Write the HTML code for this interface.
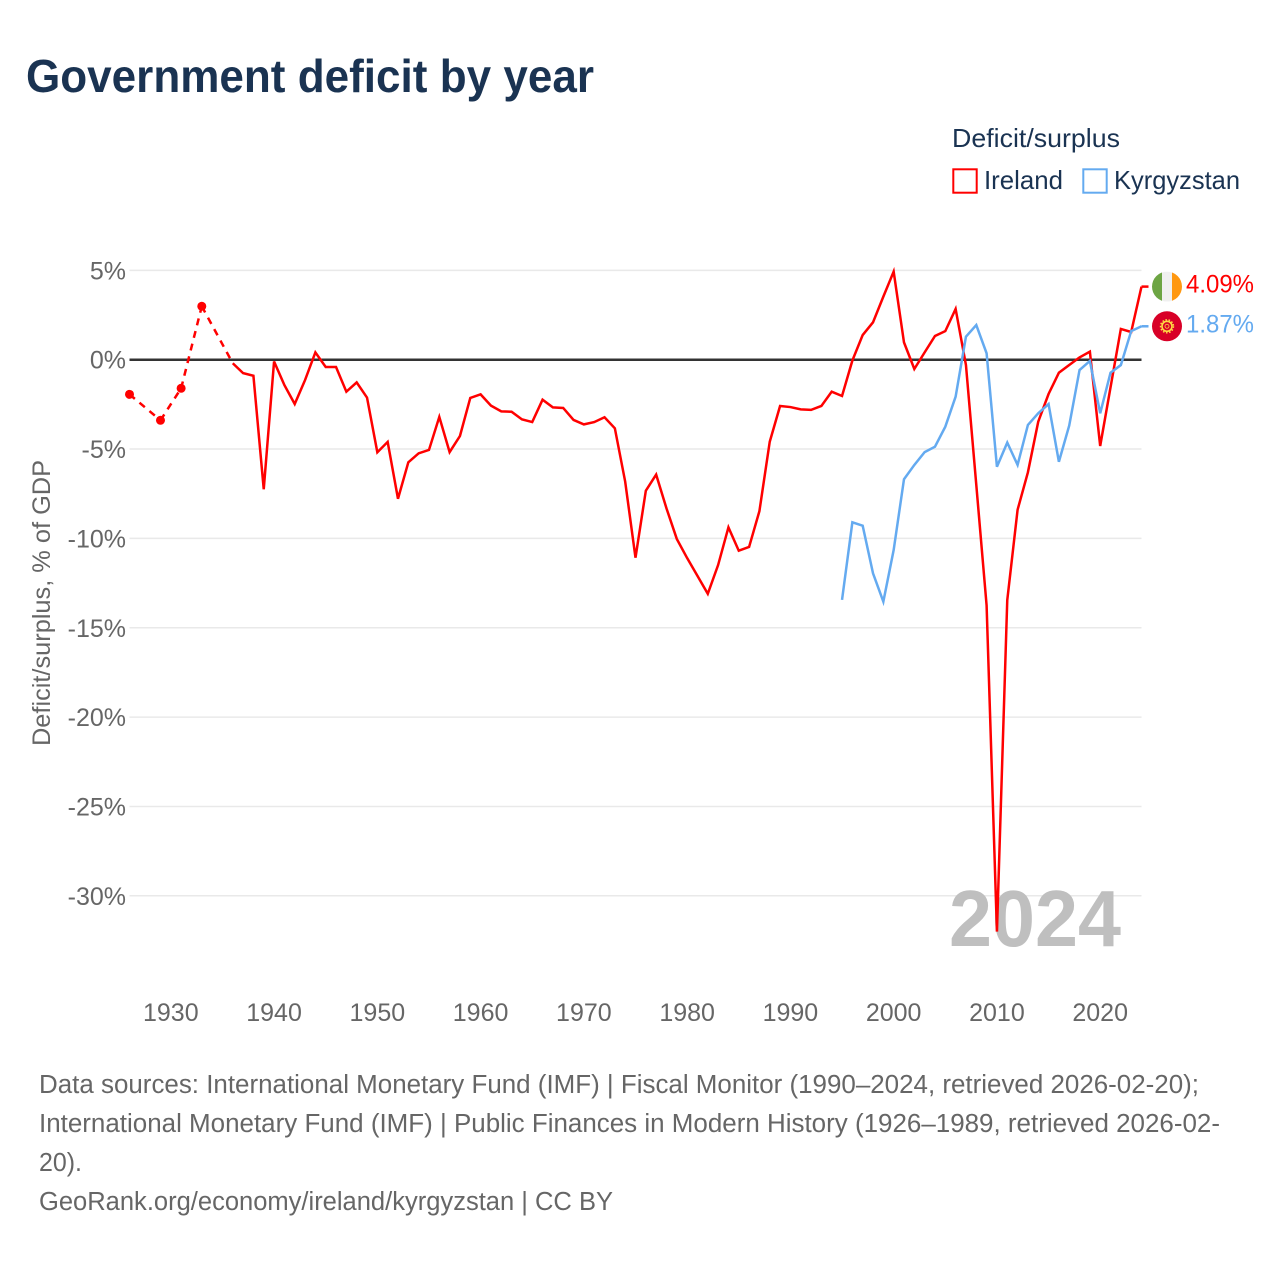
<!DOCTYPE html>
<html lang="en">
<head>
<meta charset="utf-8">
<title>Government deficit by year</title>
<style>
  html, body { margin: 0; padding: 0; background: #fff; }
  svg { display: block; font-family: "Liberation Sans", sans-serif; }
</style>
</head>
<body>
<svg id="chart" xmlns="http://www.w3.org/2000/svg" width="1280" height="1280" viewBox="0 0 1280 1280">
  <rect x="0" y="0" width="1280" height="1280" fill="#ffffff"/>
  <text x="26" y="92" font-size="46" font-weight="700" fill="#1a3352" textLength="568" lengthAdjust="spacingAndGlyphs">Government deficit by year</text>

  <g>
    <text x="952" y="147" font-size="26" fill="#1a3352" textLength="168" lengthAdjust="spacingAndGlyphs">Deficit/surplus</text>
    <g>
      <rect x="953.3" y="169.3" width="23.4" height="23.4" fill="#fff" stroke="#ff0000" stroke-width="2"/>
      <text x="984" y="189" font-size="26" fill="#1a3352" textLength="79" lengthAdjust="spacingAndGlyphs">Ireland</text>
    </g>
    <g>
      <rect x="1083.3" y="169.3" width="23.4" height="23.4" fill="#fff" stroke="#64aaf0" stroke-width="2"/>
      <text x="1114" y="189" font-size="26" fill="#1a3352" textLength="126" lengthAdjust="spacingAndGlyphs">Kyrgyzstan</text>
    </g>
  </g>

  <text transform="translate(50 603) rotate(-90)" text-anchor="middle" font-size="25" fill="#666666" textLength="286" lengthAdjust="spacingAndGlyphs">Deficit/surplus, % of GDP</text>

  <g id="grid"></g>
  <g id="yTicks"></g>
  <g id="xTicks"></g>

  <text x="949" y="946" font-size="80" font-weight="700" fill="#bfbfbf" textLength="172" lengthAdjust="spacingAndGlyphs">2024</text>

  <g id="series"></g>

  <g id="endLabels"></g>

  <g font-size="25.5" fill="#666666">
    <text x="39" y="1093" textLength="1160" lengthAdjust="spacingAndGlyphs">Data sources: International Monetary Fund (IMF) | Fiscal Monitor (1990–2024, retrieved 2026-02-20);</text>
    <text x="39" y="1132" textLength="1181" lengthAdjust="spacingAndGlyphs">International Monetary Fund (IMF) | Public Finances in Modern History (1926–1989, retrieved 2026-02-</text>
    <text x="39" y="1171" textLength="43" lengthAdjust="spacingAndGlyphs">20).</text>
    <text x="39" y="1210" textLength="574" lengthAdjust="spacingAndGlyphs">GeoRank.org/economy/ireland/kyrgyzstan | CC BY</text>
  </g>
</svg>

<script>
const yTickValues = [5, 0, -5, -10, -15, -20, -25, -30];
const xTickYears = [1930, 1940, 1950, 1960, 1970, 1980, 1990, 2000, 2010, 2020];

const irelandYears = [1926, 1929, 1931, 1933,
  1936, 1937, 1938, 1939, 1940, 1941, 1942, 1943, 1944, 1945, 1946, 1947, 1948, 1949,
  1950, 1951, 1952, 1953, 1954, 1955, 1956, 1957, 1958, 1959,
  1960, 1961, 1962, 1963, 1964, 1965, 1966, 1967, 1968, 1969,
  1970, 1971, 1972, 1973, 1974, 1975, 1976, 1977, 1978, 1979,
  1980, 1981, 1982, 1983, 1984, 1985, 1986, 1987, 1988, 1989,
  1990, 1991, 1992, 1993, 1994, 1995, 1996, 1997, 1998, 1999,
  2000, 2001, 2002, 2003, 2004, 2005, 2006, 2007, 2008, 2009,
  2010, 2011, 2012, 2013, 2014, 2015, 2016, 2017, 2018, 2019,
  2020, 2021, 2022, 2023, 2024];
const irelandValues = [-1.94, -3.39, -1.6, 2.99,
  -0.2, -0.75, -0.9, -7.25, -0.1, -1.42, -2.48, -1.14, 0.41, -0.41, -0.41, -1.79, -1.27, -2.12,
  -5.18, -4.6, -7.78, -5.74, -5.24, -5.05, -3.2, -5.17, -4.27, -2.14,
  -1.94, -2.57, -2.89, -2.91, -3.34, -3.49, -2.24, -2.67, -2.7, -3.37,
  -3.62, -3.49, -3.22, -3.84, -6.82, -11.08, -7.33, -6.43, -8.32, -10.03,
  -11.1, -12.1, -13.1, -11.49, -9.38, -10.69, -10.48, -8.47, -4.59, -2.59,
  -2.65, -2.78, -2.81, -2.59, -1.79, -2.03, -0.05, 1.38, 2.09, 3.53,
  4.93, 0.97, -0.52, 0.41, 1.33, 1.6, 2.84, -0.3, -7.0, -13.75,
  -32.0, -13.45, -8.4, -6.3, -3.47, -1.92, -0.73, -0.3, 0.13, 0.45,
  -4.83, -1.55, 1.72, 1.55, 4.09];

const kyrgyzstanYears = [1995, 1996, 1997, 1998, 1999,
  2000, 2001, 2002, 2003, 2004, 2005, 2006, 2007, 2008, 2009,
  2010, 2011, 2012, 2013, 2014, 2015, 2016, 2017, 2018, 2019,
  2020, 2021, 2022, 2023, 2024];
const kyrgyzstanValues = [-13.44, -9.1, -9.29, -11.95, -13.54,
  -10.65, -6.69, -5.89, -5.17, -4.87, -3.75, -2.07, 1.29, 1.94, 0.36,
  -5.99, -4.64, -5.89, -3.65, -3.0, -2.48, -5.71, -3.69, -0.58, -0.07,
  -3.0, -0.73, -0.3, 1.6, 1.87];

const NS = 'http://www.w3.org/2000/svg';
const plotLeft = 129.5;
const plotRight = 1141.5;
const xScale = function (year) { return plotLeft + (year - 1926) * (plotRight - plotLeft) / (2024 - 1926); };
const yScale = function (value) { return 359.7 - value * 17.87; };

function make(tag, attrs, parent, text) {
  const el = document.createElementNS(NS, tag);
  Object.keys(attrs).forEach(function (k) { el.setAttribute(k, attrs[k]); });
  if (text !== undefined) el.textContent = text;
  parent.appendChild(el);
  return el;
}

const grid = document.getElementById('grid');
const yTicks = document.getElementById('yTicks');
const xTicks = document.getElementById('xTicks');
const series = document.getElementById('series');
const endLabels = document.getElementById('endLabels');

yTickValues.forEach(function (v) {
  if (v !== 0) {
    const line = make('line', { x1: plotLeft, x2: plotRight, y1: yScale(v), y2: yScale(v), stroke: '#e9e9e9', 'stroke-width': 1.5 }, grid);
    
    
  }
  const label = make('text', { x: 126, y: yScale(v) + 9, 'text-anchor': 'end', 'font-size': 25, fill: '#666666' }, yTicks, v + '%');
  
  
});

xTickYears.forEach(function (yr) {
  const label = make('text', { x: xScale(yr), y: 1021, 'text-anchor': 'middle', 'font-size': 25, fill: '#666666' }, xTicks, String(yr));
  
  
});

const zeroLine = make('line', { x1: plotLeft, x2: plotRight, y1: yScale(0), y2: yScale(0), stroke: '#333333', 'stroke-width': 2.5 }, grid);



function drawSeries(years, values, color) {
  let run = [];
  function flush() {
    if (run.length > 1) {
      const pts = run.map(function (i) { return xScale(years[i]).toFixed(2) + ',' + yScale(values[i]).toFixed(2); }).join(' ');
      const poly = make('polyline', { points: pts, fill: 'none', stroke: color, 'stroke-width': 2.5, 'stroke-linejoin': 'miter' }, series);
      
      
    } else if (run.length === 1) {
      const dot = make('circle', { cx: xScale(years[run[0]]), cy: yScale(values[run[0]]), r: 4.5, fill: color }, series);
      
      
    }
    run = [];
  }
  years.forEach(function (yr, i) {
    if (i > 0 && yr - years[i - 1] > 1) {
      flush();
      const gap = make('line', { x1: xScale(years[i - 1]), y1: yScale(values[i - 1]), x2: xScale(yr), y2: yScale(values[i]), stroke: color, 'stroke-width': 2.5, 'stroke-dasharray': '7 6' }, series);
      
      
    }
    run.push(i);
  });
  flush();
}

drawSeries(irelandYears, irelandValues, '#ff0000');
drawSeries(kyrgyzstanYears, kyrgyzstanValues, '#64aaf0');

function drawEnd(years, values, color, name) {
  const last = values[values.length - 1];
  const lastYear = years[years.length - 1];
  const stub = make('line', { x1: xScale(lastYear), x2: xScale(lastYear) + 7, y1: yScale(last), y2: yScale(last), stroke: color, 'stroke-width': 2.5 }, endLabels);
  
  
  const txt = make('text', { x: 1254, y: yScale(last) + 6, 'text-anchor': 'end', 'font-size': 25, fill: color, textLength: 68, lengthAdjust: 'spacingAndGlyphs' }, endLabels, last.toFixed(2) + '%');
  
  
  return yScale(last);
}

const ieY = drawEnd(irelandYears, irelandValues, '#ff0000', 'ireland');
const kgY = drawEnd(kyrgyzstanYears, kyrgyzstanValues, '#64aaf0', 'kyrgyzstan');

/* Ireland flag */
const defs = make('defs', {}, endLabels);
const clip = make('clipPath', { id: 'ieClip' }, defs);
make('circle', { cx: 1167, cy: ieY, r: 15 }, clip);
const ieFlag = make('g', { 'clip-path': 'url(#ieClip)' }, endLabels);


make('rect', { x: 1152, y: ieY - 15, width: 10, height: 30, fill: '#6da544' }, ieFlag);
make('rect', { x: 1162, y: ieY - 15, width: 10, height: 30, fill: '#f0f0f0' }, ieFlag);
make('rect', { x: 1172, y: ieY - 15, width: 10, height: 30, fill: '#ff9811' }, ieFlag);

/* Kyrgyzstan flag */
const kgFlag = make('g', {}, endLabels);


make('circle', { cx: 1167, cy: kgY, r: 15, fill: '#d80027' }, kgFlag);
make('circle', { cx: 1167, cy: kgY, r: 5, fill: 'none', stroke: '#ffda44', 'stroke-width': 1.6 }, kgFlag);
make('circle', { cx: 1167, cy: kgY, r: 6.5, fill: 'none', stroke: '#ffda44', 'stroke-width': 1.4, 'stroke-dasharray': '1.6 1.6' }, kgFlag);
make('circle', { cx: 1167, cy: kgY, r: 2, fill: 'none', stroke: '#ffda44', 'stroke-width': 0.8 }, kgFlag);
</script>
</body>
</html>
